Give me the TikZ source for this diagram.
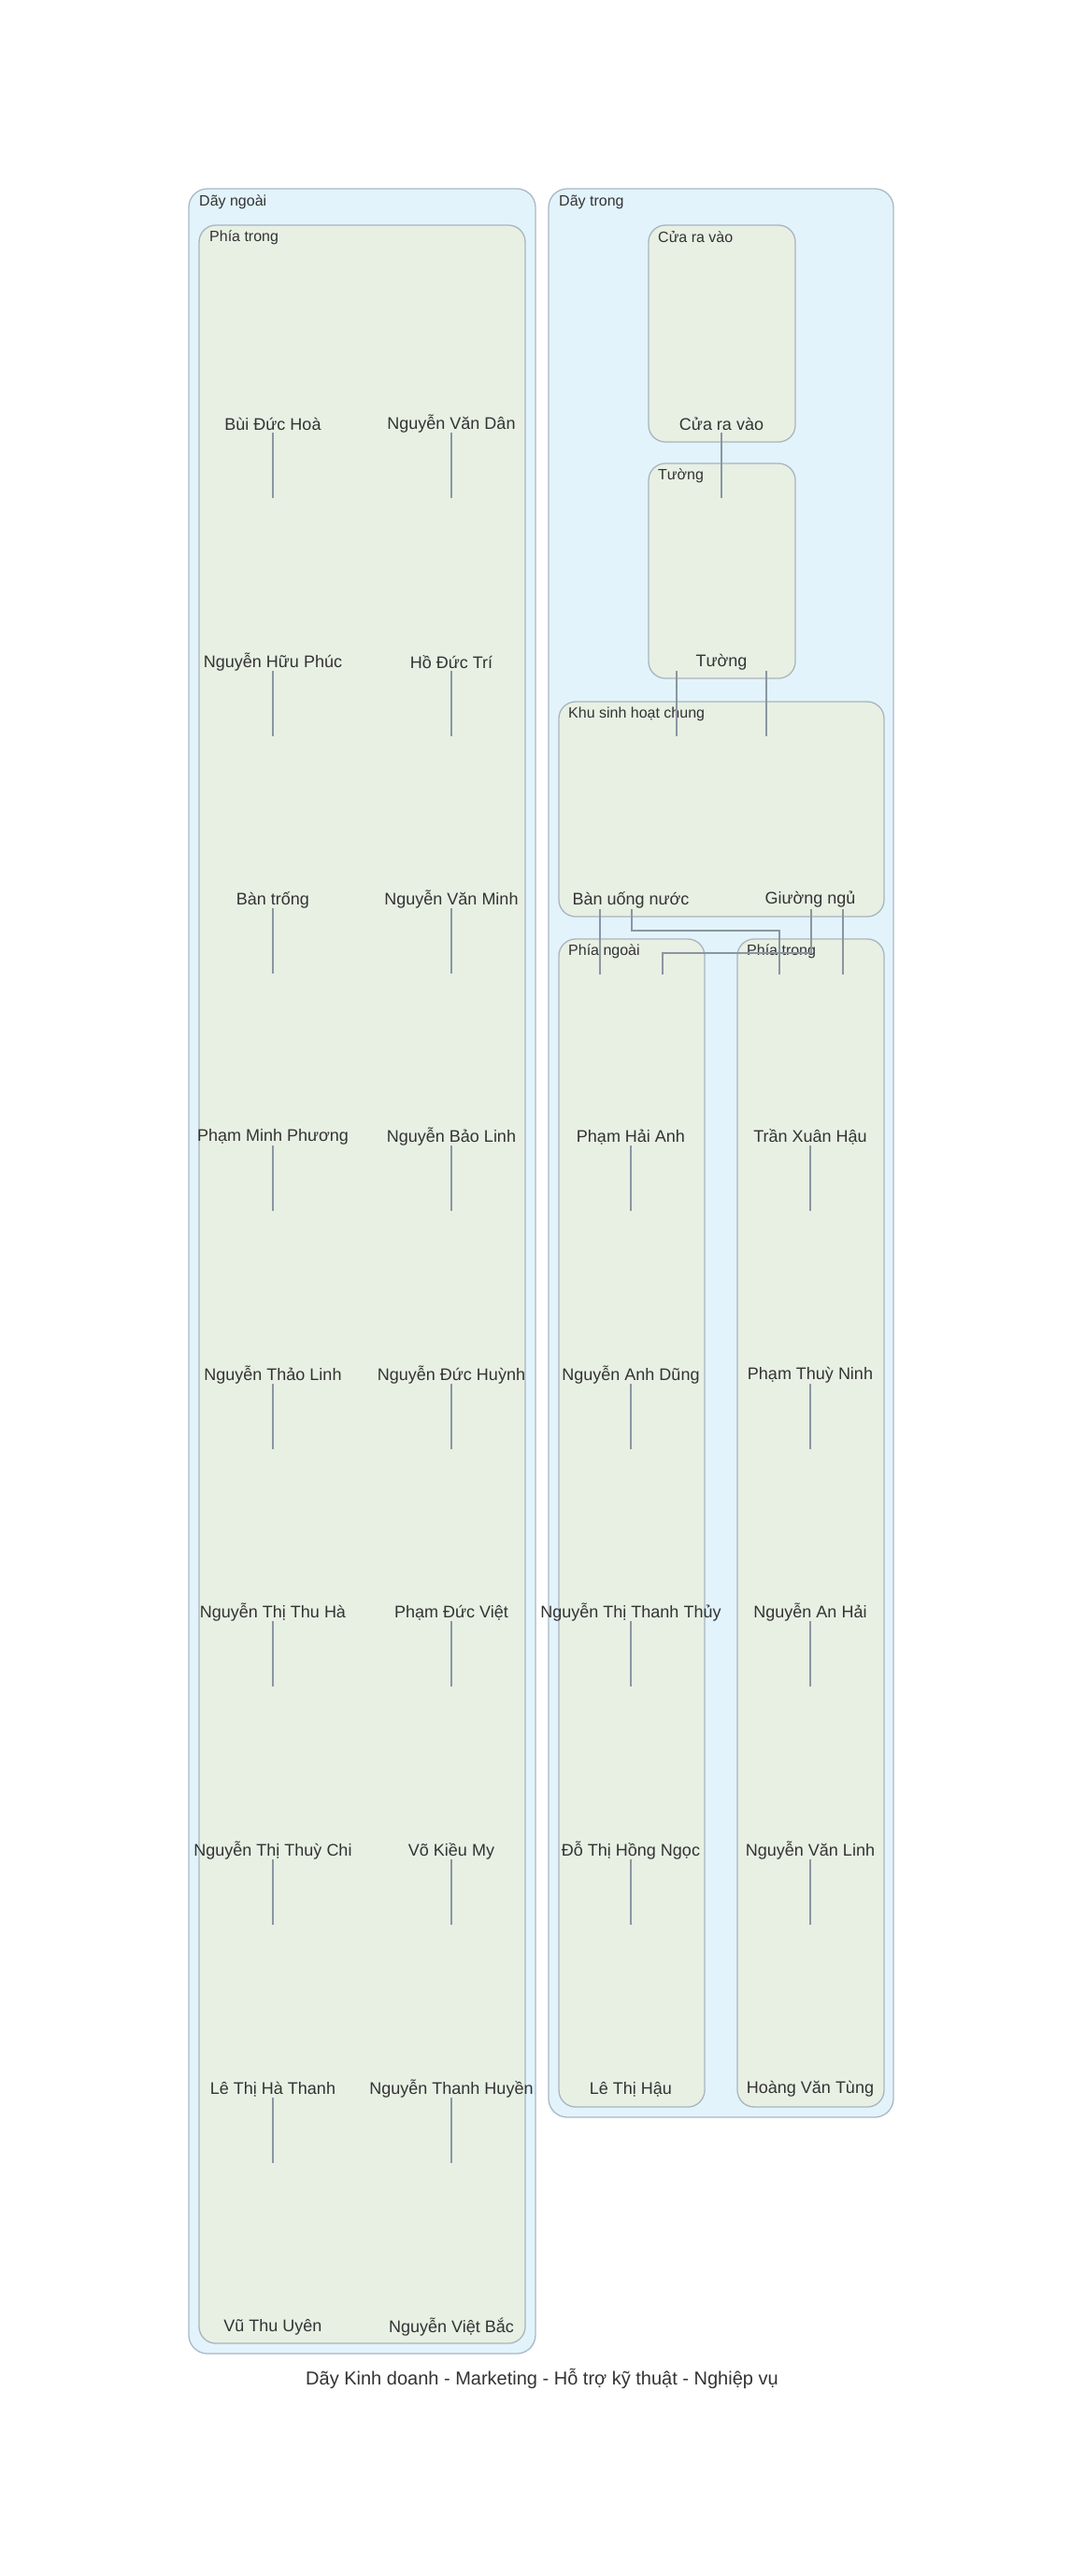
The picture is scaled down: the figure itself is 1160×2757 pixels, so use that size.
\documentclass[tikz,border=0pt]{standalone}
\usepackage{fontspec}
\setmainfont{Liberation Sans}
\definecolor{outerfill}{HTML}{E2F3FB}
\definecolor{outerdraw}{HTML}{A9B9C6}
\definecolor{innerfill}{HTML}{E8F0E4}
\definecolor{innerdraw}{HTML}{A9B5BC}
\definecolor{edgecol}{HTML}{8A96A2}
\definecolor{txt}{HTML}{333333}
\tikzset{
  outerbox/.style={draw=outerdraw, fill=outerfill, line width=1.3pt, rounded corners=20pt},
  innerbox/.style={draw=innerdraw, fill=innerfill, line width=1.3pt, rounded corners=18pt},
  clabel/.style={anchor=west, inner sep=0pt, text=txt, font=\fontsize{16}{18}\selectfont},
  nm/.style={inner sep=0pt, text=txt, font=\fontsize{18}{21}\selectfont, yshift=-2pt},
  edgeline/.style={draw=edgecol, line width=1.3pt},
  caption/.style={inner sep=0pt, text=txt, font=\fontsize{20}{24}\selectfont}
}
\begin{document}
\begin{tikzpicture}[x=1pt,y=-1pt]
\useasboundingbox (0,0) rectangle (1160,2757);
\fill[white] (0,0) rectangle (1160,2757);
% clusters
\draw[outerbox] (202,202) rectangle (573,2519);
\draw[innerbox] (213,241) rectangle (562,2508);
\draw[outerbox] (587,202) rectangle (956,2266);
\draw[innerbox] (694,241) rectangle (851,473);
\draw[innerbox] (694,496) rectangle (851,726);
\draw[innerbox] (598,751) rectangle (946,981);
\draw[innerbox] (598,1005) rectangle (754,2255);
\draw[innerbox] (789,1005) rectangle (946,2255);
% cluster labels
\node[clabel] (lday1) at (213,216) {Dãy ngoài};
\node[clabel] (lpt1) at (224,254) {Phía trong};
\node[clabel] (lday2) at (598,216) {Dãy trong};
\node[clabel] (lcua) at (704,254) {Cửa ra vào};
\node[clabel] (ltuong) at (704,509) {Tường};
\node[clabel] (lkhu) at (608,764) {Khu sinh hoạt chung};
\node[clabel] (lpn) at (608,1018) {Phía ngoài};
\node[clabel] (lpt2) at (799,1018) {Phía trong};
% nodes
\foreach \n/\x/\y/\t in {
  a1/292/452/Bùi Đức Hoà, b1/483/452/Nguyễn Văn Dân,
  a2/292/707/Nguyễn Hữu Phúc, b2/483/707/Hồ Đức Trí,
  a3/292/961/Bàn trống, b3/483/961/Nguyễn Văn Minh,
  a4/292/1215/Phạm Minh Phương, b4/483/1215/Nguyễn Bảo Linh,
  a5/292/1470/Nguyễn Thảo Linh, b5/483/1470/Nguyễn Đức Huỳnh,
  a6/292/1724/Nguyễn Thị Thu Hà, b6/483/1724/Phạm Đức Việt,
  a7/292/1979/Nguyễn Thị Thuỳ Chi, b7/483/1979/Võ Kiều My,
  a8/292/2234/Lê Thị Hà Thanh, b8/483/2234/Nguyễn Thanh Huyền,
  a9/292/2489/Vũ Thu Uyên, b9/483/2489/Nguyễn Việt Bắc,
  cua/772/452/Cửa ra vào, tuong/772/707/Tường,
  ban/675/961/Bàn uống nước, giuong/867/961/Giường ngủ,
  c4/675/1215/Phạm Hải Anh, d4/867/1215/Trần Xuân Hậu,
  c5/675/1470/Nguyễn Anh Dũng, d5/867/1470/Phạm Thuỳ Ninh,
  c6/675/1724/Nguyễn Thị Thanh Thủy, d6/867/1724/Nguyễn An Hải,
  c7/675/1979/Đỗ Thị Hồng Ngọc, d7/867/1979/Nguyễn Văn Linh,
  c8/675/2234/Lê Thị Hậu, d8/867/2234/Hoàng Văn Tùng}
  {\node[nm] (\n) at (\x,\y) {\t};}
% straight stubs
\foreach \n in {a1,a2,a3,a4,a5,a6,a7,a8,b1,b2,b3,b4,b5,b6,b7,b8,cua,c4,c5,c6,c7,d4,d5,d6,d7}{
  \coordinate (\n-end) at ([yshift=-79pt]\n.center);
  \draw[edgeline] ([yshift=-9pt]\n.center) -- (\n-end);
}
% Tường stubs
\coordinate (tuong-endL) at ([xshift=-48pt,yshift=-79pt]tuong.center);
\coordinate (tuong-endR) at ([xshift=48pt,yshift=-79pt]tuong.center);
\draw[edgeline] ([xshift=-48pt,yshift=-9pt]tuong.center) -- (tuong-endL);
\draw[edgeline] ([xshift=48pt,yshift=-9pt]tuong.center) -- (tuong-endR);
% Bàn uống nước stubs
\coordinate (ban-endL) at ([xshift=-33pt,yshift=-80pt]ban.center);
\draw[edgeline] ([xshift=-33pt,yshift=-10pt]ban.center) -- (ban-endL);
\coordinate (ban-endR) at (834,1043);
\draw[edgeline] ([xshift=1pt,yshift=-10pt]ban.center) |- (834,996) -- (ban-endR);
% Giường ngủ stubs
\coordinate (giuong-endL) at (709,1043);
\draw[edgeline] ([xshift=1pt,yshift=-10pt]giuong.center) |- (709,1020) -- (giuong-endL);
\coordinate (giuong-endR) at ([xshift=35pt,yshift=-80pt]giuong.center);
\draw[edgeline] ([xshift=35pt,yshift=-10pt]giuong.center) -- (giuong-endR);
% caption
\node[caption] (cap) at (580,2546) {Dãy Kinh doanh - Marketing - Hỗ trợ kỹ thuật - Nghiệp vụ};
\end{tikzpicture}
\end{document}
